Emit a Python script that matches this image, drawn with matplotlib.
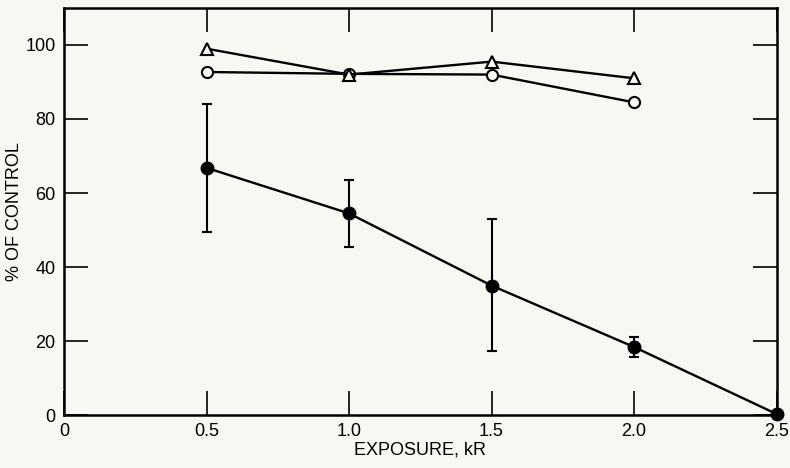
import numpy as np
import matplotlib.pyplot as plt

plt.rcParams['font.family'] = ['Liberation Sans', 'DejaVu Sans']

# exposure (kR)
x_tri = [0.5, 1.0, 1.5, 2.0]
y_tri = [99, 92, 95.5, 91]

x_open = [0.5, 1.0, 1.5, 2.0]
y_open = [92.7, 92.2, 92.0, 84.5]

x_fill = [0.5, 1.0, 1.5, 2.0, 2.5]
y_fill = [66.8, 54.5, 35.0, 18.4, 0.3]
err_lo = [49.5, 45.4, 17.3, 15.7, 0.3]
err_hi = [84.0, 63.5, 53.0, 21.0, 0.3]

bg = '#f8f8f2'
fig = plt.figure(figsize=(7.9, 4.68), dpi=100, facecolor=bg)
ax = fig.add_axes([0.081, 0.113, 0.902, 0.870], facecolor=bg)

yerr = np.array([np.array(y_fill) - np.array(err_lo), np.array(err_hi) - np.array(y_fill)])
ax.errorbar(x_fill, y_fill, yerr=yerr, fmt='none', ecolor='black', elinewidth=1.5,
            capsize=3.5, capthick=1.5, zorder=2)
ax.plot(x_fill, y_fill, '-o', color='black', lw=1.7, ms=9, mfc='black', zorder=3,
        clip_on=False)
ax.plot(x_open, y_open, '-o', color='black', lw=1.7, ms=8, mfc=bg, mew=1.5, zorder=3)
ax.plot(x_tri, y_tri, '-^', color='black', lw=1.7, ms=8, mfc=bg, mew=1.5, zorder=3)

ax.set_xlim(0, 2.5)
ax.set_ylim(0, 110)
ax.set_xticks([0, 0.5, 1.0, 1.5, 2.0, 2.5])
ax.set_xticklabels(['0', '0.5', '1.0', '1.5', '2.0', '2.5'])
ax.set_yticks([0, 20, 40, 60, 80, 100])
ax.tick_params(direction='in', length=17, width=1.2, top=True, right=True,
               labelsize=13, pad=6)
for s in ax.spines.values():
    s.set_linewidth(1.8)

ax.set_xlabel('EXPOSURE, kR', fontsize=13, labelpad=1)
ax.set_ylabel('% OF CONTROL', fontsize=13, labelpad=2)

fig.savefig('out.png', dpi=100, facecolor=bg)
